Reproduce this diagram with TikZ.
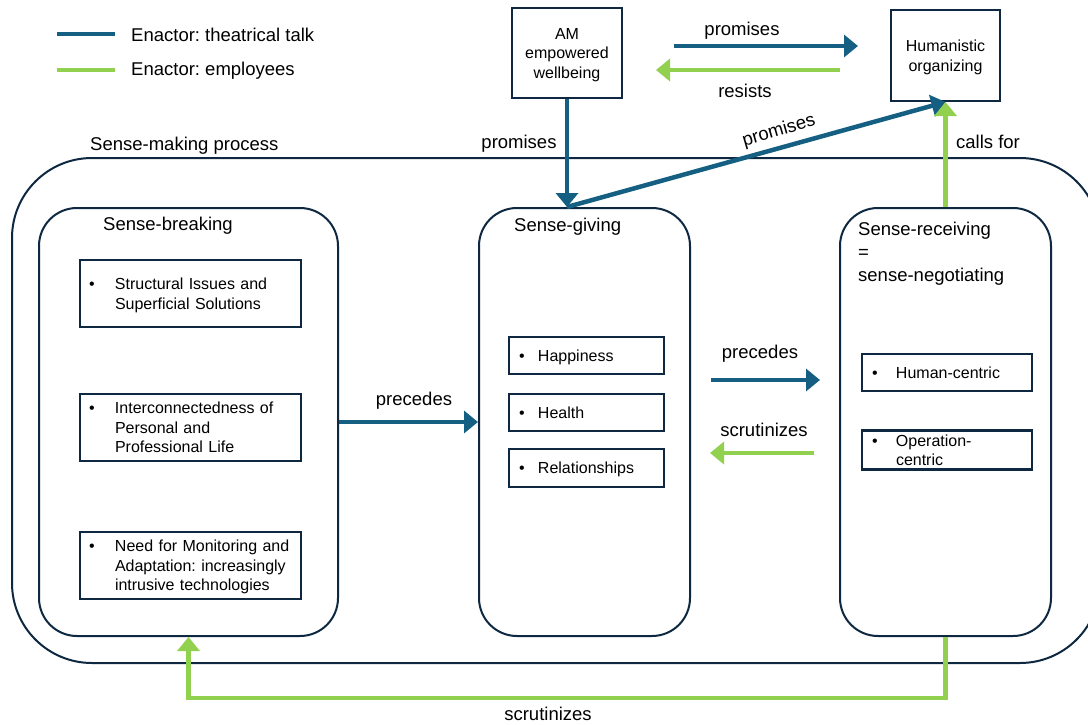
\documentclass[tikz,border=0pt]{standalone}
\usepackage{fontspec}
\setmainfont{Liberation Sans}
\usetikzlibrary{arrows.meta}
\frenchspacing

\definecolor{talk}{HTML}{156082}
\definecolor{staff}{HTML}{92D050}
\definecolor{frame}{HTML}{0E2841}

% bullet item with a hanging text column, set a little low in its box
\newcommand\bulletlist[2]{\raisebox{-2pt}[\height][\depth]{\begin{tabular}{@{}p{#1}@{}l@{}}\textbullet&#2\end{tabular}}}
% centred stack of lines, set a little low in its box
\newcommand\stacklines[1]{\raisebox{-2pt}[\height][\depth]{\begin{tabular}{@{}c@{}}#1\end{tabular}}}

\tikzset{
  lbl/.style={font=\fontsize{18.5}{23}\selectfont, inner sep=0pt, yshift=-2pt},
  topbox/.style={draw=frame, line width=2pt, align=center,
    font=\fontsize{16}{19.5}\selectfont, inner sep=0pt},
  phase/.style={draw=frame, line width=2pt, rounded corners=38pt, inner sep=0pt},
  itembox/.style={draw=frame, line width=2.2pt, align=left, inner ysep=0pt,
    font=\fontsize{16}{19.5}\selectfont},
  talkarrow/.style={draw=talk, line width=4.5pt, -{Triangle[length=14pt,width=22pt]}},
  staffarrow/.style={draw=staff, line width=4.5pt, -{Triangle[length=14pt,width=22pt]}},
}

\begin{document}
\begin{tikzpicture}[x=1pt, y=-1pt]
\path[use as bounding box] (0,0) rectangle (1088,724);
\clip (0,0) rectangle (1088,724);
\fill[white] (0,0) rectangle (1088,724);

% legend
\coordinate (lt1) at (57,34);  \coordinate (lt2) at (115,34);
\coordinate (ls1) at (57,70);  \coordinate (ls2) at (115,70);
\draw[talk, line width=4.5pt] (lt1) -- (lt2);
\draw[staff, line width=4.5pt] (ls1) -- (ls2);
\node[lbl, anchor=west] (legtalk) at (131,33) {Enactor: theatrical talk};
\node[lbl, anchor=west] (legstaff) at (131,69) {Enactor: employees};

% top concepts
\node[topbox, minimum width=110pt, minimum height=90pt] (am) at (567,53)
  {\stacklines{AM\\empowered\\wellbeing}};
\node[topbox, minimum width=109pt, minimum height=91pt] (hum) at (945.5,55.5)
  {\stacklines{Humanistic\\organizing}};

% sense-making frame
\node[draw=frame, line width=2pt, rounded corners=80pt, inner sep=0pt,
  minimum width=1088pt, minimum height=505pt] (outer) at (556,410.5) {};
\node[lbl, anchor=west] (outerl) at (90,144) {Sense-making process};

% phases
\node[phase, minimum width=299pt, minimum height=428pt] (sb) at (188.5,422) {};
\node[phase, minimum width=211pt, minimum height=428pt] (sg) at (584.5,422) {};
\node[phase, minimum width=211pt, minimum height=428pt] (sr) at (945.5,422) {};
\node[lbl, anchor=west] (sbl) at (103,224) {Sense-breaking};
\node[lbl, anchor=west] (sgl) at (514,225) {Sense-giving};
\node[lbl, anchor=north west, align=left] (srl) at (858,220)
  {Sense-receiving\\=\\sense-negotiating};

% sense-breaking items
\node[itembox, minimum width=221pt, minimum height=67pt, text width=203pt, inner xsep=9pt]
  (sb1) at (190.5,293.5) {\bulletlist{26pt}{Structural Issues and\\&Superficial Solutions}};
\node[itembox, minimum width=221pt, minimum height=67pt, text width=203pt, inner xsep=9pt]
  (sb2) at (190.5,427.5) {\bulletlist{26pt}{Interconnectedness of\\&Personal and\\&Professional Life}};
\node[itembox, minimum width=221pt, minimum height=67pt, text width=203pt, inner xsep=9pt]
  (sb3) at (190.5,565.5) {\bulletlist{26pt}{Need for Monitoring and\\&Adaptation: increasingly\\&intrusive technologies}};

% sense-giving items
\node[itembox, minimum width=155pt, minimum height=37pt, text width=135pt, inner xsep=10pt]
  (sg1) at (586.5,355.5) {\bulletlist{19pt}{Happiness}};
\node[itembox, minimum width=155pt, minimum height=37pt, text width=135pt, inner xsep=10pt]
  (sg2) at (586.5,412.5) {\bulletlist{19pt}{Health}};
\node[itembox, minimum width=155pt, minimum height=38pt, text width=135pt, inner xsep=10pt]
  (sg3) at (586.5,468) {\bulletlist{19pt}{Relationships}};

% sense-receiving items
\node[itembox, minimum width=170pt, minimum height=37pt, text width=150pt, inner xsep=10pt]
  (sr1) at (947,372.5) {\bulletlist{24pt}{Human-centric}};
\node[itembox, minimum width=170pt, minimum height=38pt, text width=150pt, inner xsep=10pt]
  (sr2) at (947,450) {\bulletlist{24pt}{Operation-\\&centric}};

% free arrow ends
\coordinate (pa) at (674,46);  \coordinate (pb) at (858,46);
\coordinate (ra) at (840,70);  \coordinate (rb) at (656,70);
\coordinate (ma) at (711,380); \coordinate (mb) at (820,380);
\coordinate (na) at (814,453); \coordinate (nb) at (710,453);

% connectors
\draw[talkarrow] (pa) -- (pb);
\draw[staffarrow] (ra) -- (rb);
\draw[talkarrow] (am.south) -- (am.south |- sg.north);
\draw[talkarrow] (am.south |- sg.north) -- (hum.south);
\draw[staffarrow] (sr.north) -- (hum.south);
\draw[talkarrow] (sb.east) -- (sg.west);
\draw[talkarrow] (ma) -- (mb);
\draw[staffarrow] (na) -- (nb);
\draw[staffarrow] (sr.south) -- ++(0,61) -| (sb.south);

% connector labels
\node[lbl] (l1) at (742,29) {promises};
\node[lbl] (l2) at (745,89) {resists};
\node[lbl] (l3) at (519,142) {promises};
\node[lbl, rotate=16.2] (l4) at (779,129) {promises};
\node[lbl] (l5) at (988,140) {calls for};
\node[lbl] (l6) at (414,399) {precedes};
\node[lbl] (l7) at (760,352) {precedes};
\node[lbl] (l8) at (764,428) {scrutinizes};
\node[lbl] (l9) at (548,712) {scrutinizes};
\end{tikzpicture}
\end{document}
